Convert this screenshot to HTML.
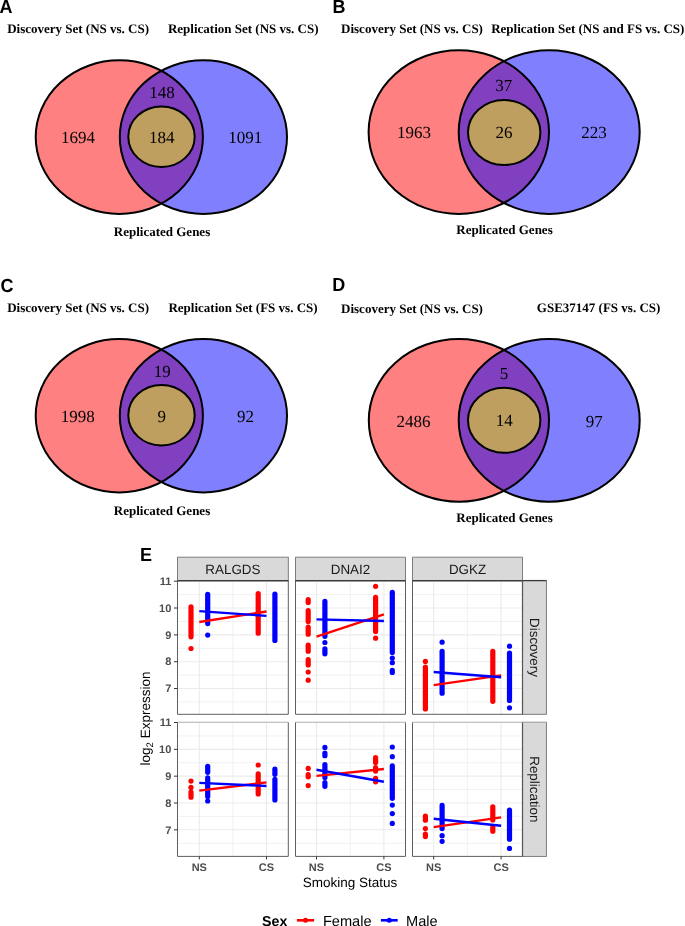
<!DOCTYPE html>
<html><head><meta charset="utf-8"><style>
html,body{margin:0;padding:0;background:#fff;}
body{width:685px;height:926px;overflow:hidden;}
svg{display:block;}
text{text-rendering:geometricPrecision;}
.num{font-family:"Liberation Serif",serif;font-size:17px;fill:#000;}
.ttl{font-family:"Liberation Serif",serif;font-weight:bold;font-size:13px;fill:#000;}
.lab{font-family:"Liberation Sans",sans-serif;font-weight:bold;font-size:18px;fill:#000;}
.gmaj{stroke:#EBEBEB;stroke-width:1.1;}
.gmin{stroke:#EDEDED;stroke-width:0.8;}
.pbord{fill:none;stroke:#5E5E5E;stroke-width:1;}
.ptop{stroke:#3A3A3A;stroke-width:1.3;}
.ptop2{stroke:#B4B4B4;stroke-width:1.1;}
.pside{stroke:#555;stroke-width:1.2;}
.stripTop{stroke:#A0A0A0;stroke-width:1;}
.strip{fill:#D9D9D9;stroke:#707070;stroke-width:0.9;}
.stxt{font-family:"Liberation Sans",sans-serif;font-size:13.4px;fill:#1A1A1A;}
.tick{stroke:#333;stroke-width:1;}
.axt{font-family:"Liberation Sans",sans-serif;font-weight:bold;font-size:11px;fill:#4D4D4D;}
.axtitle{font-family:"Liberation Sans",sans-serif;font-size:13.5px;fill:#000;}
.legt{font-family:"Liberation Sans",sans-serif;font-weight:bold;font-size:14.2px;fill:#000;}
.legl{font-family:"Liberation Sans",sans-serif;font-size:14.6px;fill:#000;}
</style></head><body>
<svg style="will-change:transform" width="685" height="926" viewBox="0 0 685 926">
<rect width="685" height="926" fill="#fff"/>
<text class="lab" transform="translate(-0.5,12.6) scale(1,1.05)">A</text>
<text class="lab" transform="translate(332.4,12.9) scale(1,1.05)">B</text>
<text class="lab" transform="translate(0.5,291.5) scale(1,1.05)">C</text>
<text class="lab" transform="translate(332.3,291.2) scale(1,1.05)">D</text>
<text class="lab" transform="translate(140.0,560.7) scale(1,1.05)">E</text>
<clipPath id="crA"><ellipse cx="119.3" cy="137.1" rx="83.6" ry="76.8"/></clipPath>
<ellipse cx="119.3" cy="137.1" rx="83.6" ry="76.8" fill="#FF8080"/>
<ellipse cx="203.4" cy="137.1" rx="83.6" ry="76.8" fill="#8080FF"/>
<ellipse cx="203.4" cy="137.1" rx="83.6" ry="76.8" fill="#8040BF" clip-path="url(#crA)"/>
<ellipse cx="161.5" cy="136.7" rx="33.2" ry="30.3" fill="#BF9F60"/>
<ellipse cx="119.3" cy="137.1" rx="83.6" ry="76.8" fill="none" stroke="#000" stroke-width="2"/>
<ellipse cx="203.4" cy="137.1" rx="83.6" ry="76.8" fill="none" stroke="#000" stroke-width="2"/>
<ellipse cx="161.5" cy="136.7" rx="33.2" ry="30.3" fill="none" stroke="#000" stroke-width="2"/>
<text class="ttl" text-anchor="start" transform="translate(7.15,33) scale(1,1.0)">Discovery Set (NS vs. CS)</text>
<text class="ttl" text-anchor="start" transform="translate(167.95,33.1) scale(1,1.0)">Replication Set (NS vs. CS)</text>
<text class="ttl" text-anchor="middle" transform="translate(162.00,236.1) scale(1,1.0)">Replicated Genes</text>
<text class="num" text-anchor="middle" transform="translate(77.92,143) scale(1,1.0)">1694</text>
<text class="num" text-anchor="middle" transform="translate(162.01,98.2) scale(1,1.0)">148</text>
<text class="num" text-anchor="middle" transform="translate(161.82,143.2) scale(1,1.0)">184</text>
<text class="num" text-anchor="middle" transform="translate(245.20,143.2) scale(1,1.0)">1091</text>
<clipPath id="crB"><ellipse cx="458.8" cy="132.05" rx="90.2" ry="81.85"/></clipPath>
<ellipse cx="458.8" cy="132.05" rx="90.2" ry="81.85" fill="#FF8080"/>
<ellipse cx="549.2" cy="132.05" rx="90.5" ry="81.85" fill="#8080FF"/>
<ellipse cx="549.2" cy="132.05" rx="90.5" ry="81.85" fill="#8040BF" clip-path="url(#crB)"/>
<ellipse cx="504.2" cy="132.5" rx="36.2" ry="32.5" fill="#BF9F60"/>
<ellipse cx="458.8" cy="132.05" rx="90.2" ry="81.85" fill="none" stroke="#000" stroke-width="2"/>
<ellipse cx="549.2" cy="132.05" rx="90.5" ry="81.85" fill="none" stroke="#000" stroke-width="2"/>
<ellipse cx="504.2" cy="132.5" rx="36.2" ry="32.5" fill="none" stroke="#000" stroke-width="2"/>
<text class="ttl" text-anchor="start" transform="translate(341.05,32.8) scale(1,1.0)">Discovery Set (NS vs. CS)</text>
<text class="ttl" text-anchor="start" transform="translate(491.15,33) scale(1,1.0)">Replication Set (NS and FS vs. CS)</text>
<text class="ttl" text-anchor="middle" transform="translate(504.50,234) scale(1,1.0)">Replicated Genes</text>
<text class="num" text-anchor="middle" transform="translate(413.96,138.4) scale(1,1.0)">1963</text>
<text class="num" text-anchor="middle" transform="translate(503.76,90.8) scale(1,1.0)">37</text>
<text class="num" text-anchor="middle" transform="translate(503.88,138.3) scale(1,1.0)">26</text>
<text class="num" text-anchor="middle" transform="translate(593.94,138.4) scale(1,1.0)">223</text>
<clipPath id="crC"><ellipse cx="119.3" cy="415.75" rx="83.6" ry="76.65"/></clipPath>
<ellipse cx="119.3" cy="415.75" rx="83.6" ry="76.65" fill="#FF8080"/>
<ellipse cx="203.4" cy="415.75" rx="83.6" ry="76.65" fill="#8080FF"/>
<ellipse cx="203.4" cy="415.75" rx="83.6" ry="76.65" fill="#8040BF" clip-path="url(#crC)"/>
<ellipse cx="161.5" cy="415.2" rx="33.2" ry="30.3" fill="#BF9F60"/>
<ellipse cx="119.3" cy="415.75" rx="83.6" ry="76.65" fill="none" stroke="#000" stroke-width="2"/>
<ellipse cx="203.4" cy="415.75" rx="83.6" ry="76.65" fill="none" stroke="#000" stroke-width="2"/>
<ellipse cx="161.5" cy="415.2" rx="33.2" ry="30.3" fill="none" stroke="#000" stroke-width="2"/>
<text class="ttl" text-anchor="start" transform="translate(7.15,312) scale(1,1.0)">Discovery Set (NS vs. CS)</text>
<text class="ttl" text-anchor="start" transform="translate(168.45,311.5) scale(1,1.0)">Replication Set (FS vs. CS)</text>
<text class="ttl" text-anchor="middle" transform="translate(162.00,514.5) scale(1,1.0)">Replicated Genes</text>
<text class="num" text-anchor="middle" transform="translate(77.71,421.9) scale(1,1.0)">1998</text>
<text class="num" text-anchor="middle" transform="translate(162.22,377) scale(1,1.0)">19</text>
<text class="num" text-anchor="middle" transform="translate(161.82,421.8) scale(1,1.0)">9</text>
<text class="num" text-anchor="middle" transform="translate(245.55,422) scale(1,1.0)">92</text>
<clipPath id="crD"><ellipse cx="458.9" cy="420.4" rx="90.1" ry="81.3"/></clipPath>
<ellipse cx="458.9" cy="420.4" rx="90.1" ry="81.3" fill="#FF8080"/>
<ellipse cx="549.2" cy="420.4" rx="90.5" ry="81.3" fill="#8080FF"/>
<ellipse cx="549.2" cy="420.4" rx="90.5" ry="81.3" fill="#8040BF" clip-path="url(#crD)"/>
<ellipse cx="504.2" cy="420.3" rx="36.2" ry="32.5" fill="#BF9F60"/>
<ellipse cx="458.9" cy="420.4" rx="90.1" ry="81.3" fill="none" stroke="#000" stroke-width="2"/>
<ellipse cx="549.2" cy="420.4" rx="90.5" ry="81.3" fill="none" stroke="#000" stroke-width="2"/>
<ellipse cx="504.2" cy="420.3" rx="36.2" ry="32.5" fill="none" stroke="#000" stroke-width="2"/>
<text class="ttl" text-anchor="start" transform="translate(341.05,312.6) scale(1,1.0)">Discovery Set (NS vs. CS)</text>
<text class="ttl" text-anchor="middle" transform="translate(598.60,312.4) scale(1,1.0)">GSE37147 (FS vs. CS)</text>
<text class="ttl" text-anchor="middle" transform="translate(504.50,521.8) scale(1,1.0)">Replicated Genes</text>
<text class="num" text-anchor="middle" transform="translate(413.62,426.8) scale(1,1.0)">2486</text>
<text class="num" text-anchor="middle" transform="translate(503.90,379) scale(1,1.0)">5</text>
<text class="num" text-anchor="middle" transform="translate(504.32,426.4) scale(1,1.0)">14</text>
<text class="num" text-anchor="middle" transform="translate(594.25,426.6) scale(1,1.0)">97</text>
<rect x="177.5" y="580.6" width="110.80000000000001" height="133.69999999999993" fill="#fff"/>
<line x1="177.5" x2="288.3" y1="701.94" y2="701.94" class="gmin"/>
<line x1="177.5" x2="288.3" y1="675.11" y2="675.11" class="gmin"/>
<line x1="177.5" x2="288.3" y1="648.28" y2="648.28" class="gmin"/>
<line x1="177.5" x2="288.3" y1="621.45" y2="621.45" class="gmin"/>
<line x1="177.5" x2="288.3" y1="594.62" y2="594.62" class="gmin"/>
<line x1="232.9" x2="232.9" y1="580.6" y2="714.3" class="gmin"/>
<line x1="177.5" x2="288.3" y1="688.52" y2="688.52" class="gmaj"/>
<line x1="177.5" x2="288.3" y1="661.69" y2="661.69" class="gmaj"/>
<line x1="177.5" x2="288.3" y1="634.86" y2="634.86" class="gmaj"/>
<line x1="177.5" x2="288.3" y1="608.03" y2="608.03" class="gmaj"/>
<line x1="177.5" x2="288.3" y1="581.20" y2="581.20" class="gmaj"/>
<line x1="199.3" x2="199.3" y1="580.6" y2="714.3" class="gmaj"/>
<line x1="266.5" x2="266.5" y1="580.6" y2="714.3" class="gmaj"/>
<rect x="295.5" y="580.6" width="110.0" height="133.69999999999993" fill="#fff"/>
<line x1="295.5" x2="405.5" y1="701.94" y2="701.94" class="gmin"/>
<line x1="295.5" x2="405.5" y1="675.11" y2="675.11" class="gmin"/>
<line x1="295.5" x2="405.5" y1="648.28" y2="648.28" class="gmin"/>
<line x1="295.5" x2="405.5" y1="621.45" y2="621.45" class="gmin"/>
<line x1="295.5" x2="405.5" y1="594.62" y2="594.62" class="gmin"/>
<line x1="350.2" x2="350.2" y1="580.6" y2="714.3" class="gmin"/>
<line x1="295.5" x2="405.5" y1="688.52" y2="688.52" class="gmaj"/>
<line x1="295.5" x2="405.5" y1="661.69" y2="661.69" class="gmaj"/>
<line x1="295.5" x2="405.5" y1="634.86" y2="634.86" class="gmaj"/>
<line x1="295.5" x2="405.5" y1="608.03" y2="608.03" class="gmaj"/>
<line x1="295.5" x2="405.5" y1="581.20" y2="581.20" class="gmaj"/>
<line x1="316.5" x2="316.5" y1="580.6" y2="714.3" class="gmaj"/>
<line x1="383.9" x2="383.9" y1="580.6" y2="714.3" class="gmaj"/>
<rect x="412.5" y="580.6" width="110.0" height="133.69999999999993" fill="#fff"/>
<line x1="412.5" x2="522.5" y1="701.94" y2="701.94" class="gmin"/>
<line x1="412.5" x2="522.5" y1="675.11" y2="675.11" class="gmin"/>
<line x1="412.5" x2="522.5" y1="648.28" y2="648.28" class="gmin"/>
<line x1="412.5" x2="522.5" y1="621.45" y2="621.45" class="gmin"/>
<line x1="412.5" x2="522.5" y1="594.62" y2="594.62" class="gmin"/>
<line x1="467.4" x2="467.4" y1="580.6" y2="714.3" class="gmin"/>
<line x1="412.5" x2="522.5" y1="688.52" y2="688.52" class="gmaj"/>
<line x1="412.5" x2="522.5" y1="661.69" y2="661.69" class="gmaj"/>
<line x1="412.5" x2="522.5" y1="634.86" y2="634.86" class="gmaj"/>
<line x1="412.5" x2="522.5" y1="608.03" y2="608.03" class="gmaj"/>
<line x1="412.5" x2="522.5" y1="581.20" y2="581.20" class="gmaj"/>
<line x1="433.7" x2="433.7" y1="580.6" y2="714.3" class="gmaj"/>
<line x1="501.1" x2="501.1" y1="580.6" y2="714.3" class="gmaj"/>
<rect x="177.5" y="722.3" width="110.80000000000001" height="134.10000000000002" fill="#fff"/>
<line x1="177.5" x2="288.3" y1="843.24" y2="843.24" class="gmin"/>
<line x1="177.5" x2="288.3" y1="816.40" y2="816.40" class="gmin"/>
<line x1="177.5" x2="288.3" y1="789.58" y2="789.58" class="gmin"/>
<line x1="177.5" x2="288.3" y1="762.75" y2="762.75" class="gmin"/>
<line x1="177.5" x2="288.3" y1="735.91" y2="735.91" class="gmin"/>
<line x1="232.9" x2="232.9" y1="722.3" y2="856.4" class="gmin"/>
<line x1="177.5" x2="288.3" y1="829.82" y2="829.82" class="gmaj"/>
<line x1="177.5" x2="288.3" y1="802.99" y2="802.99" class="gmaj"/>
<line x1="177.5" x2="288.3" y1="776.16" y2="776.16" class="gmaj"/>
<line x1="177.5" x2="288.3" y1="749.33" y2="749.33" class="gmaj"/>
<line x1="177.5" x2="288.3" y1="722.50" y2="722.50" class="gmaj"/>
<line x1="199.3" x2="199.3" y1="722.3" y2="856.4" class="gmaj"/>
<line x1="266.5" x2="266.5" y1="722.3" y2="856.4" class="gmaj"/>
<rect x="295.5" y="722.3" width="110.0" height="134.10000000000002" fill="#fff"/>
<line x1="295.5" x2="405.5" y1="843.24" y2="843.24" class="gmin"/>
<line x1="295.5" x2="405.5" y1="816.40" y2="816.40" class="gmin"/>
<line x1="295.5" x2="405.5" y1="789.58" y2="789.58" class="gmin"/>
<line x1="295.5" x2="405.5" y1="762.75" y2="762.75" class="gmin"/>
<line x1="295.5" x2="405.5" y1="735.91" y2="735.91" class="gmin"/>
<line x1="350.2" x2="350.2" y1="722.3" y2="856.4" class="gmin"/>
<line x1="295.5" x2="405.5" y1="829.82" y2="829.82" class="gmaj"/>
<line x1="295.5" x2="405.5" y1="802.99" y2="802.99" class="gmaj"/>
<line x1="295.5" x2="405.5" y1="776.16" y2="776.16" class="gmaj"/>
<line x1="295.5" x2="405.5" y1="749.33" y2="749.33" class="gmaj"/>
<line x1="295.5" x2="405.5" y1="722.50" y2="722.50" class="gmaj"/>
<line x1="316.5" x2="316.5" y1="722.3" y2="856.4" class="gmaj"/>
<line x1="383.9" x2="383.9" y1="722.3" y2="856.4" class="gmaj"/>
<rect x="412.5" y="722.3" width="110.0" height="134.10000000000002" fill="#fff"/>
<line x1="412.5" x2="522.5" y1="843.24" y2="843.24" class="gmin"/>
<line x1="412.5" x2="522.5" y1="816.40" y2="816.40" class="gmin"/>
<line x1="412.5" x2="522.5" y1="789.58" y2="789.58" class="gmin"/>
<line x1="412.5" x2="522.5" y1="762.75" y2="762.75" class="gmin"/>
<line x1="412.5" x2="522.5" y1="735.91" y2="735.91" class="gmin"/>
<line x1="467.4" x2="467.4" y1="722.3" y2="856.4" class="gmin"/>
<line x1="412.5" x2="522.5" y1="829.82" y2="829.82" class="gmaj"/>
<line x1="412.5" x2="522.5" y1="802.99" y2="802.99" class="gmaj"/>
<line x1="412.5" x2="522.5" y1="776.16" y2="776.16" class="gmaj"/>
<line x1="412.5" x2="522.5" y1="749.33" y2="749.33" class="gmaj"/>
<line x1="412.5" x2="522.5" y1="722.50" y2="722.50" class="gmaj"/>
<line x1="433.7" x2="433.7" y1="722.3" y2="856.4" class="gmaj"/>
<line x1="501.1" x2="501.1" y1="722.3" y2="856.4" class="gmaj"/>
<line x1="191.0" x2="191.0" y1="606.8" y2="636.8" stroke="#FF0000" stroke-width="5.2" stroke-linecap="round"/>
<circle cx="191.0" cy="648.5" r="2.6" fill="#FF0000"/>
<line x1="258.2" x2="258.2" y1="593.5" y2="633.2" stroke="#FF0000" stroke-width="5.2" stroke-linecap="round"/>
<line x1="207.7" x2="207.7" y1="594.4" y2="623.6" stroke="#0000FF" stroke-width="5.2" stroke-linecap="round"/>
<circle cx="207.7" cy="635.1" r="2.6" fill="#0000FF"/>
<line x1="274.9" x2="274.9" y1="594" y2="640.5" stroke="#0000FF" stroke-width="5.2" stroke-linecap="round"/>
<line x1="199.3" x2="266.5" y1="622" y2="611.5" stroke="#FF0000" stroke-width="2.4"/>
<line x1="199.3" x2="266.5" y1="611.1" y2="615.9" stroke="#0000FF" stroke-width="2.4"/>
<line x1="308.2" x2="308.2" y1="599.5" y2="602.4" stroke="#FF0000" stroke-width="5.2" stroke-linecap="round"/>
<line x1="308.2" x2="308.2" y1="610.7" y2="621.6" stroke="#FF0000" stroke-width="5.2" stroke-linecap="round"/>
<line x1="308.2" x2="308.2" y1="627.2" y2="634.2" stroke="#FF0000" stroke-width="5.2" stroke-linecap="round"/>
<line x1="308.2" x2="308.2" y1="645.2" y2="651.2" stroke="#FF0000" stroke-width="5.2" stroke-linecap="round"/>
<line x1="308.2" x2="308.2" y1="659.5" y2="665.0" stroke="#FF0000" stroke-width="5.2" stroke-linecap="round"/>
<circle cx="308.2" cy="672.0" r="2.6" fill="#FF0000"/>
<circle cx="308.2" cy="680.2" r="2.6" fill="#FF0000"/>
<circle cx="375.6" cy="586.3" r="2.6" fill="#FF0000"/>
<line x1="375.6" x2="375.6" y1="597.3" y2="631.4" stroke="#FF0000" stroke-width="5.2" stroke-linecap="round"/>
<circle cx="375.6" cy="638.2" r="2.6" fill="#FF0000"/>
<line x1="324.9" x2="324.9" y1="601.4" y2="636.3" stroke="#0000FF" stroke-width="5.2" stroke-linecap="round"/>
<circle cx="324.9" cy="642.5" r="2.6" fill="#0000FF"/>
<line x1="324.9" x2="324.9" y1="648.8" y2="653.8" stroke="#0000FF" stroke-width="5.2" stroke-linecap="round"/>
<line x1="392.3" x2="392.3" y1="592.3" y2="652.5" stroke="#0000FF" stroke-width="5.2" stroke-linecap="round"/>
<circle cx="392.3" cy="658" r="2.6" fill="#0000FF"/>
<circle cx="392.3" cy="662.7" r="2.6" fill="#0000FF"/>
<line x1="392.3" x2="392.3" y1="670.4" y2="672.5" stroke="#0000FF" stroke-width="5.2" stroke-linecap="round"/>
<line x1="316.5" x2="383.9" y1="636.7" y2="614.3" stroke="#FF0000" stroke-width="2.4"/>
<line x1="316.5" x2="383.9" y1="619.4" y2="621" stroke="#0000FF" stroke-width="2.4"/>
<circle cx="425.4" cy="661.4" r="2.6" fill="#FF0000"/>
<line x1="425.4" x2="425.4" y1="667.2" y2="708.9" stroke="#FF0000" stroke-width="5.2" stroke-linecap="round"/>
<line x1="492.8" x2="492.8" y1="651.4" y2="701.3" stroke="#FF0000" stroke-width="5.2" stroke-linecap="round"/>
<circle cx="442.1" cy="642.2" r="2.6" fill="#0000FF"/>
<line x1="442.1" x2="442.1" y1="651.3" y2="693.2" stroke="#0000FF" stroke-width="5.2" stroke-linecap="round"/>
<circle cx="509.5" cy="646.2" r="2.6" fill="#0000FF"/>
<line x1="509.5" x2="509.5" y1="653" y2="700.5" stroke="#0000FF" stroke-width="5.2" stroke-linecap="round"/>
<circle cx="509.5" cy="707.8" r="2.6" fill="#0000FF"/>
<line x1="433.7" x2="501.1" y1="685.1" y2="675.4" stroke="#FF0000" stroke-width="2.4"/>
<line x1="433.7" x2="501.1" y1="672" y2="677.3" stroke="#0000FF" stroke-width="2.4"/>
<circle cx="191.0" cy="781.1" r="2.6" fill="#FF0000"/>
<circle cx="191.0" cy="787.4" r="2.6" fill="#FF0000"/>
<line x1="191.0" x2="191.0" y1="792.1" y2="797.2" stroke="#FF0000" stroke-width="5.2" stroke-linecap="round"/>
<circle cx="258.2" cy="765" r="2.6" fill="#FF0000"/>
<line x1="258.2" x2="258.2" y1="773.9" y2="793.9" stroke="#FF0000" stroke-width="5.2" stroke-linecap="round"/>
<line x1="207.7" x2="207.7" y1="766.3" y2="772.3" stroke="#0000FF" stroke-width="5.2" stroke-linecap="round"/>
<line x1="207.7" x2="207.7" y1="777.8" y2="796.6" stroke="#0000FF" stroke-width="5.2" stroke-linecap="round"/>
<circle cx="207.7" cy="801" r="2.6" fill="#0000FF"/>
<line x1="274.9" x2="274.9" y1="769.2" y2="774.3" stroke="#0000FF" stroke-width="5.2" stroke-linecap="round"/>
<line x1="274.9" x2="274.9" y1="779.3" y2="799.9" stroke="#0000FF" stroke-width="5.2" stroke-linecap="round"/>
<line x1="199.3" x2="266.5" y1="790.6" y2="782.4" stroke="#FF0000" stroke-width="2.4"/>
<line x1="199.3" x2="266.5" y1="782.9" y2="786" stroke="#0000FF" stroke-width="2.4"/>
<circle cx="308.2" cy="768.4" r="2.6" fill="#FF0000"/>
<line x1="308.2" x2="308.2" y1="774.5" y2="776.8" stroke="#FF0000" stroke-width="5.2" stroke-linecap="round"/>
<circle cx="308.2" cy="785.6" r="2.6" fill="#FF0000"/>
<line x1="375.6" x2="375.6" y1="757.5" y2="762.4" stroke="#FF0000" stroke-width="5.2" stroke-linecap="round"/>
<line x1="375.6" x2="375.6" y1="767.7" y2="771.1" stroke="#FF0000" stroke-width="5.2" stroke-linecap="round"/>
<line x1="375.6" x2="375.6" y1="778.4" y2="781.8" stroke="#FF0000" stroke-width="5.2" stroke-linecap="round"/>
<circle cx="324.9" cy="747.4" r="2.6" fill="#0000FF"/>
<line x1="324.9" x2="324.9" y1="753" y2="755.7" stroke="#0000FF" stroke-width="5.2" stroke-linecap="round"/>
<line x1="324.9" x2="324.9" y1="764.6" y2="777.4" stroke="#0000FF" stroke-width="5.2" stroke-linecap="round"/>
<line x1="324.9" x2="324.9" y1="782.5" y2="786.3" stroke="#0000FF" stroke-width="5.2" stroke-linecap="round"/>
<circle cx="392.3" cy="747" r="2.6" fill="#0000FF"/>
<circle cx="392.3" cy="756.7" r="2.6" fill="#0000FF"/>
<line x1="392.3" x2="392.3" y1="765.8" y2="798.3" stroke="#0000FF" stroke-width="5.2" stroke-linecap="round"/>
<circle cx="392.3" cy="805.1" r="2.6" fill="#0000FF"/>
<circle cx="392.3" cy="813.6" r="2.6" fill="#0000FF"/>
<circle cx="392.3" cy="823.4" r="2.6" fill="#0000FF"/>
<line x1="316.5" x2="383.9" y1="775.9" y2="769" stroke="#FF0000" stroke-width="2.4"/>
<line x1="316.5" x2="383.9" y1="769.7" y2="781.8" stroke="#0000FF" stroke-width="2.4"/>
<line x1="425.4" x2="425.4" y1="816.1" y2="820.2" stroke="#FF0000" stroke-width="5.2" stroke-linecap="round"/>
<circle cx="425.4" cy="828.6" r="2.6" fill="#FF0000"/>
<line x1="425.4" x2="425.4" y1="834.2" y2="836.6" stroke="#FF0000" stroke-width="5.2" stroke-linecap="round"/>
<line x1="492.8" x2="492.8" y1="806.9" y2="820" stroke="#FF0000" stroke-width="5.2" stroke-linecap="round"/>
<line x1="492.8" x2="492.8" y1="827.1" y2="831.2" stroke="#FF0000" stroke-width="5.2" stroke-linecap="round"/>
<line x1="442.1" x2="442.1" y1="805.4" y2="828.6" stroke="#0000FF" stroke-width="5.2" stroke-linecap="round"/>
<circle cx="442.1" cy="835.7" r="2.6" fill="#0000FF"/>
<circle cx="442.1" cy="841.3" r="2.6" fill="#0000FF"/>
<line x1="509.5" x2="509.5" y1="810.1" y2="839.2" stroke="#0000FF" stroke-width="5.2" stroke-linecap="round"/>
<circle cx="509.5" cy="848.4" r="2.6" fill="#0000FF"/>
<line x1="433.7" x2="501.1" y1="827.1" y2="817.4" stroke="#FF0000" stroke-width="2.4"/>
<line x1="433.7" x2="501.1" y1="818.8" y2="825.8" stroke="#0000FF" stroke-width="2.4"/>
<path d="M177.5,580.6 V714.3 H288.3 V580.6" class="pbord"/>
<line x1="177.5" x2="288.3" y1="580.6" y2="580.6" class="ptop"/>
<path d="M295.5,580.6 V714.3 H405.5 V580.6" class="pbord"/>
<line x1="295.5" x2="405.5" y1="580.6" y2="580.6" class="ptop"/>
<path d="M412.5,580.6 V714.3 H522.5 V580.6" class="pbord"/>
<line x1="412.5" x2="522.5" y1="580.6" y2="580.6" class="ptop"/>
<path d="M177.5,722.3 V856.4 H288.3 V722.3" class="pbord"/>
<line x1="177.5" x2="288.3" y1="722.3" y2="722.3" class="ptop2"/>
<path d="M295.5,722.3 V856.4 H405.5 V722.3" class="pbord"/>
<line x1="295.5" x2="405.5" y1="722.3" y2="722.3" class="ptop2"/>
<path d="M412.5,722.3 V856.4 H522.5 V722.3" class="pbord"/>
<line x1="412.5" x2="522.5" y1="722.3" y2="722.3" class="ptop2"/>
<rect x="177.5" y="557.3" width="110.80000000000001" height="23.300000000000068" class="strip"/>
<line x1="177.5" x2="288.3" y1="557.3" y2="557.3" class="stripTop"/>
<line x1="177.5" x2="288.3" y1="580.6" y2="580.6" class="ptop"/>
<text x="232.9" y="573.8" class="stxt" text-anchor="middle">RALGDS</text>
<rect x="295.5" y="557.3" width="110.0" height="23.300000000000068" class="strip"/>
<line x1="295.5" x2="405.5" y1="557.3" y2="557.3" class="stripTop"/>
<line x1="295.5" x2="405.5" y1="580.6" y2="580.6" class="ptop"/>
<text x="350.5" y="573.8" class="stxt" text-anchor="middle">DNAI2</text>
<rect x="412.5" y="557.3" width="110.0" height="23.300000000000068" class="strip"/>
<line x1="412.5" x2="522.5" y1="557.3" y2="557.3" class="stripTop"/>
<line x1="412.5" x2="522.5" y1="580.6" y2="580.6" class="ptop"/>
<text x="467.5" y="573.8" class="stxt" text-anchor="middle">DGKZ</text>
<rect x="522.5" y="580.6" width="23.899999999999977" height="133.69999999999993" class="strip"/>
<line x1="522.5" x2="522.5" y1="580.6" y2="714.3" class="pside"/>
<line x1="522.5" x2="546.4" y1="580.6" y2="580.6" class="ptop"/>
<text x="0" y="0" class="stxt" text-anchor="middle" transform="translate(529.75,647.45) rotate(90)">Discovery</text>
<rect x="522.5" y="722.3" width="23.899999999999977" height="134.10000000000002" class="strip"/>
<line x1="522.5" x2="522.5" y1="722.3" y2="856.4" class="pside"/>
<line x1="522.5" x2="546.4" y1="722.3" y2="722.3" class="ptop2"/>
<text x="0" y="0" class="stxt" text-anchor="middle" transform="translate(529.75,789.35) rotate(90)">Replication</text>
<line x1="174" x2="177.5" y1="688.52" y2="688.52" class="tick"/>
<text x="171.3" y="692.22" class="axt" text-anchor="end">7</text>
<line x1="174" x2="177.5" y1="661.69" y2="661.69" class="tick"/>
<text x="171.3" y="665.39" class="axt" text-anchor="end">8</text>
<line x1="174" x2="177.5" y1="634.86" y2="634.86" class="tick"/>
<text x="171.3" y="638.56" class="axt" text-anchor="end">9</text>
<line x1="174" x2="177.5" y1="608.03" y2="608.03" class="tick"/>
<text x="171.3" y="611.73" class="axt" text-anchor="end">10</text>
<line x1="174" x2="177.5" y1="581.20" y2="581.20" class="tick"/>
<text x="171.3" y="584.90" class="axt" text-anchor="end">11</text>
<line x1="174" x2="177.5" y1="829.82" y2="829.82" class="tick"/>
<text x="171.3" y="833.52" class="axt" text-anchor="end">7</text>
<line x1="174" x2="177.5" y1="802.99" y2="802.99" class="tick"/>
<text x="171.3" y="806.69" class="axt" text-anchor="end">8</text>
<line x1="174" x2="177.5" y1="776.16" y2="776.16" class="tick"/>
<text x="171.3" y="779.86" class="axt" text-anchor="end">9</text>
<line x1="174" x2="177.5" y1="749.33" y2="749.33" class="tick"/>
<text x="171.3" y="753.03" class="axt" text-anchor="end">10</text>
<line x1="174" x2="177.5" y1="722.50" y2="722.50" class="tick"/>
<text x="171.3" y="726.20" class="axt" text-anchor="end">11</text>
<line x1="199.3" x2="199.3" y1="856.4" y2="859.4" class="tick"/>
<text x="199.3" y="870.7" class="axt" text-anchor="middle">NS</text>
<line x1="266.5" x2="266.5" y1="856.4" y2="859.4" class="tick"/>
<text x="266.5" y="870.7" class="axt" text-anchor="middle">CS</text>
<line x1="316.5" x2="316.5" y1="856.4" y2="859.4" class="tick"/>
<text x="316.5" y="870.7" class="axt" text-anchor="middle">NS</text>
<line x1="383.9" x2="383.9" y1="856.4" y2="859.4" class="tick"/>
<text x="383.9" y="870.7" class="axt" text-anchor="middle">CS</text>
<line x1="433.7" x2="433.7" y1="856.4" y2="859.4" class="tick"/>
<text x="433.7" y="870.7" class="axt" text-anchor="middle">NS</text>
<line x1="501.1" x2="501.1" y1="856.4" y2="859.4" class="tick"/>
<text x="501.1" y="870.7" class="axt" text-anchor="middle">CS</text>
<text x="350" y="886.6" class="axtitle" text-anchor="middle">Smoking Status</text>
<text x="0" y="0" class="axtitle" text-anchor="middle" transform="translate(149.5,718.5) rotate(-90)">log<tspan font-size="9.5" dy="3">2</tspan><tspan dy="-3"> Expression</tspan></text>
<text x="262.1" y="925.6" class="legt">Sex</text>
<line x1="296.9" x2="314.1" y1="920.3" y2="920.3" stroke="#FF0000" stroke-width="2.6"/>
<circle cx="305.5" cy="920.3" r="2.5" fill="#FF0000"/>
<text x="322.9" y="926" class="legl">Female</text>
<line x1="380.9" x2="397.7" y1="920.3" y2="920.3" stroke="#0000FF" stroke-width="2.6"/>
<circle cx="389.3" cy="920.3" r="2.5" fill="#0000FF"/>
<text x="406" y="926" class="legl">Male</text>
</svg>
</body></html>
